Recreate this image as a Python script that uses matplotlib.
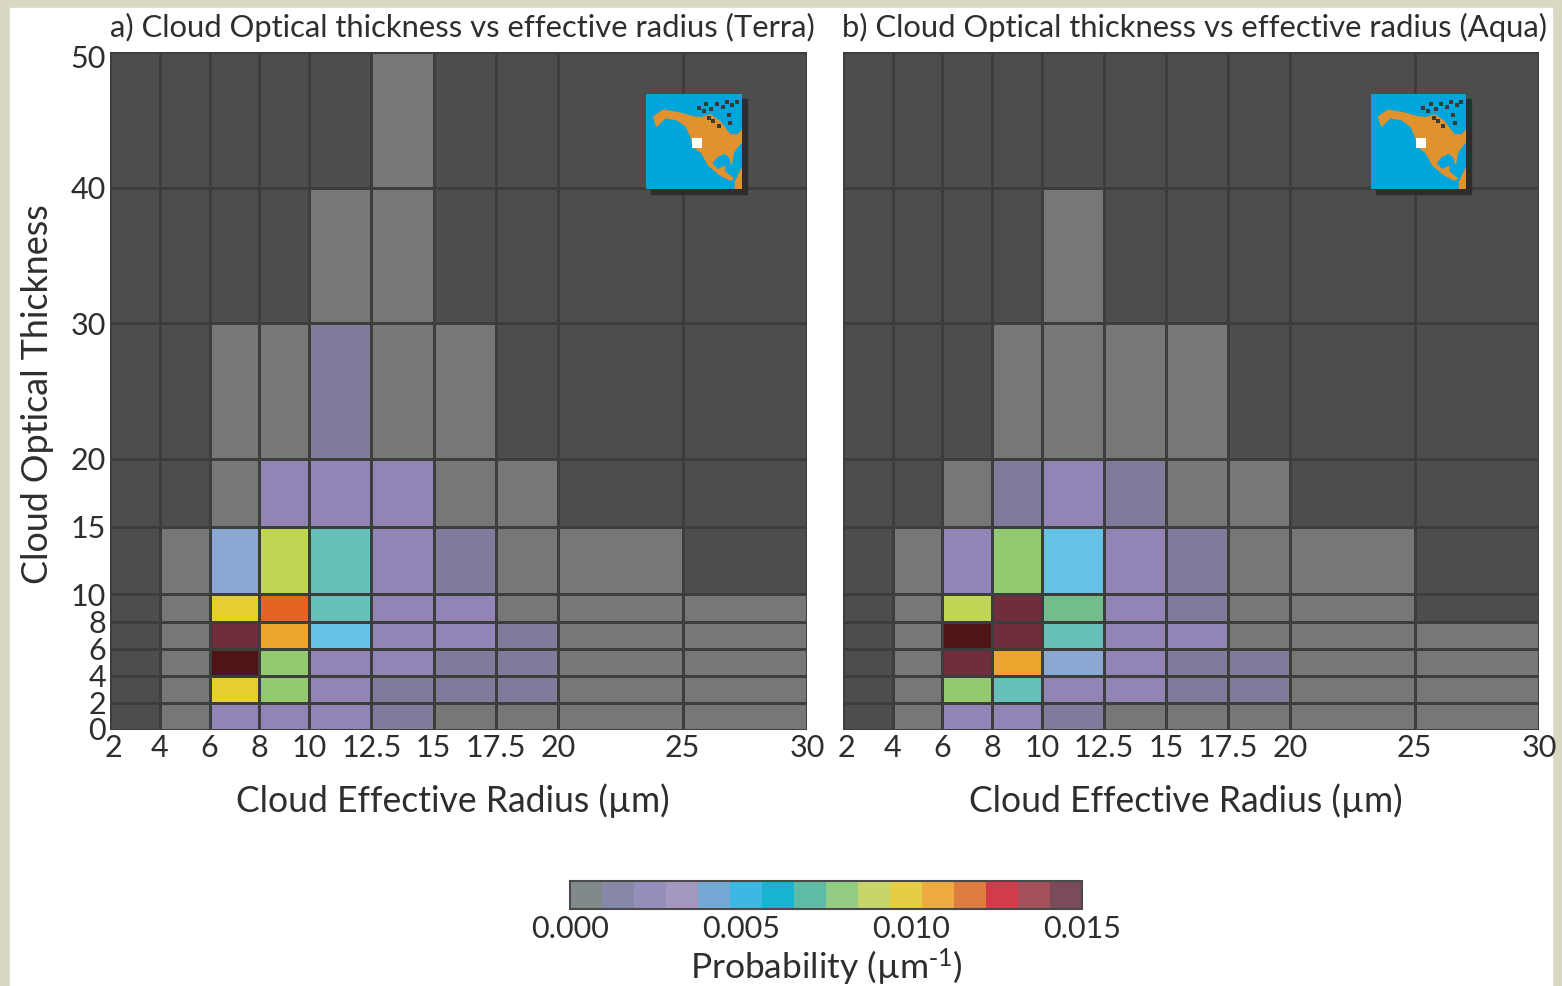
import numpy as np
import matplotlib
matplotlib.use('Agg')
import matplotlib.pyplot as plt
from matplotlib.colors import ListedColormap, BoundaryNorm
from matplotlib.cm import ScalarMappable
from matplotlib.patches import Rectangle, Polygon
from matplotlib.transforms import ScaledTranslation

plt.rcParams['font.family'] = ['Lato', 'DejaVu Sans']
plt.rcParams['mathtext.default'] = 'regular'

W, H = 1562, 986
n = np.nan

# bin edges
radius_edges = [2, 4, 6, 8, 10, 12.5, 15, 17.5, 20, 25, 30]
tau_edges = [0, 2, 4, 6, 8, 10, 15, 20, 30, 40, 50]
radius_ticks = [2, 4, 6, 8, 10, 12.5, 15, 17.5, 20, 25, 30]
radius_labels = ['2', '4', '6', '8', '10', '12.5', '15', '17.5', '20', '25', '30']
tau_ticks = [0, 2, 4, 6, 8, 10, 15, 20, 30, 40, 50]
tau_labels = ['0', '2', '4', '6', '8', '10', '15', '20', '30', '40', '50']

# probabilidades, fila de abajo primero (nan = sin datos)
terra = [
    [n, .0005, .0023, .0023, .0023, .0014, .0005, .0005, .0005, .0005],
    [n, .0005, .0098, .0080, .0023, .0014, .0014, .0014, .0005, .0005],
    [n, .0005, .0145, .0080, .0023, .0023, .0014, .0014, .0005, .0005],
    [n, .0005, .0136, .0108, .0052, .0023, .0023, .0014, .0005, .0005],
    [n, .0005, .0098, .0117, .0061, .0023, .0023, .0005, .0005, .0005],
    [n, .0005, .0042, .0089, .0061, .0023, .0014, .0005, .0005, n],
    [n, n, .0005, .0023, .0023, .0023, .0005, .0005, n, n],
    [n, n, .0005, .0005, .0014, .0005, .0005, n, n, n],
    [n, n, n, n, .0005, .0005, n, n, n, n],
    [n, n, n, n, n, .0005, n, n, n, n],
]
aqua = [
    [n, .0005, .0023, .0023, .0014, .0005, .0005, .0005, .0005, .0005],
    [n, .0005, .0080, .0061, .0023, .0023, .0014, .0014, .0005, .0005],
    [n, .0005, .0136, .0108, .0042, .0023, .0014, .0014, .0005, .0005],
    [n, .0005, .0145, .0136, .0061, .0023, .0023, .0005, .0005, .0005],
    [n, .0005, .0089, .0136, .0070, .0023, .0014, .0005, .0005, n],
    [n, .0005, .0023, .0080, .0052, .0023, .0014, .0005, .0005, n],
    [n, n, .0005, .0014, .0023, .0014, .0005, .0005, n, n],
    [n, n, n, .0005, .0005, .0005, .0005, n, n, n],
    [n, n, n, n, .0005, n, n, n, n, n],
    [n, n, n, n, n, n, n, n, n, n],
]

cell_colors = ['#767875', '#7f7b9b', '#9284b5', '#9688b7', '#8aa8d1', '#66c1e6',
               '#67c1ba', '#72bd8a', '#92c971', '#bfd655', '#e5cf2f', '#eca42f',
               '#e46426', '#c93a3a', '#702e3c', '#4e1416']
bar_colors = ['#808a8a', '#8787a8', '#9490bb', '#a497c0', '#74a9d6', '#3db7e4',
              '#16b4d0', '#5fbba3', '#92cc85', '#c7d56b', '#e6cd46', '#eeab42',
              '#dd7e40', '#d23c4a', '#a44f5c', '#7a4b58']
levels = np.linspace(0, 0.015, 17)
bar_ticks = [0, 0.005, 0.010, 0.015]

# contorno aproximado del mapa (norteamerica), en fraccion del recuadro
land_x = [.08, .18, .35, .49, .58, .67, .77, .875, .96, 1.0, 1.0, .94, .91, .89, .875, .82,
          .74, .68, .75, .82, .82, .91, .875, .77, .65, .58, .49, .475, .42, .32, .20, .11]
land_y = [.76, .83, .80, .76, .75, .78, .71, .57, .57, .62, .50, .43, .38, .26, .33, .38,
          .34, .27, .20, .24, .18, .11, .095, .15, .25, .38, .45, .535, .66, .73, .75, .66]
southam_x = [.93, .93, 1.0, 1.0]
southam_y = [0, .07, .22, 0]
islands_x = [.55, .60, .63, .68, .70, .74, .80, .84, .86, .90, .95, .66, .76, .88]
islands_y = [.85, .82, .90, .84, .72, .90, .86, .92, .78, .88, .92, .75, .66, .70]


def add_axes_px(fig, x0, y0, x1, y1):
    return fig.add_axes([x0 / W, 1 - y1 / H, (x1 - x0) / W, (y1 - y0) / H])


def nudge(label, dx, dy):
    label.set_transform(label.get_transform() + ScaledTranslation(dx / 100, dy / 100, label.figure.dpi_scale_trans))


def draw_panel(fig, box, data, title, cmap, norm, map_box, ylab=False):
    ax = add_axes_px(fig, *box)
    ax.pcolormesh(radius_edges, tau_edges, np.ma.masked_invalid(data), cmap=cmap, norm=norm,
                  edgecolors='#3c3e3c', linewidth=0.8)
    ax.set_xlim(2, 30)
    ax.set_ylim(0, 50)
    ax.set_xticks(radius_ticks, radius_labels)
    ax.set_yticks(tau_ticks if ylab else [])
    if ylab:
        ax.set_yticklabels(tau_labels)
    ax.tick_params(length=0, labelsize=22, colors='#2e2e2e', pad=3)
    for sp in ax.spines.values():
        sp.set_visible(False)
    ax.set_xlabel('Cloud Effective Radius (µm)', fontsize=25.6, color='#2e2e2e', labelpad=15, x=0.492)
    if ylab:
        ax.set_ylabel('Cloud Optical Thickness', fontsize=25.8, color='#2e2e2e', labelpad=12, y=0.495)
        nudge(ax.get_yticklabels()[0], 0, 2)
        nudge(ax.get_yticklabels()[-1], 0, -4)
    nudge(ax.get_xticklabels()[0], 3, 0)
    ax.set_title(title, fontsize=22.3, color='#2e2e2e', x=0.505, pad=11)

    # mapa de situacion
    x0, y0, x1, y1 = map_box
    fig.patches.append(Rectangle((x0 / W + 5 / W, 1 - y1 / H - 5 / H), (x1 - x0) / W, (y1 - y0) / H,
                                 transform=fig.transFigure, color='#2c2d2c', zorder=3))
    m = add_axes_px(fig, x0, y0, x1, y1)
    m.set_zorder(4)
    m.set_facecolor('#00a5dc')
    m.set_xlim(0, 1)
    m.set_ylim(0, 1)
    m.set_xticks([])
    m.set_yticks([])
    for sp in m.spines.values():
        sp.set_visible(False)
    m.add_patch(Polygon(np.column_stack([land_x, land_y]), color='#e0922f'))
    m.add_patch(Polygon(np.column_stack([southam_x, southam_y]), color='#e0922f'))
    m.scatter(islands_x, islands_y, s=9, marker='s', color='#3a3a34', linewidths=0)
    m.scatter([.53], [.48], s=60, marker='s', color='white', linewidths=0)
    return ax


fig = plt.figure(figsize=(W / 100, H / 100), dpi=100, facecolor='#d9d9c3')
fig.patches.append(Rectangle((10 / W, 0), 1542 / W, 1 - 8 / H, transform=fig.transFigure,
                             color='white', zorder=-1))

cell_cmap = ListedColormap(cell_colors)
cell_cmap.set_bad('#4c4e4c')
norm = BoundaryNorm(levels, 16)

draw_panel(fig, (110, 52, 807, 730), terra, 'a) Cloud Optical thickness vs effective radius (Terra)',
           cell_cmap, norm, (646, 94, 742, 189), ylab=True)
draw_panel(fig, (843, 52, 1539, 730), aqua, 'b) Cloud Optical thickness vs effective radius (Aqua)',
           cell_cmap, norm, (1371, 94, 1466, 189))

cax = add_axes_px(fig, 570, 881, 1082, 909)
cb = fig.colorbar(ScalarMappable(norm=norm, cmap=ListedColormap(bar_colors)), cax=cax,
                  orientation='horizontal', ticks=bar_ticks, spacing='proportional')
cb.ax.set_xticklabels(['%.3f' % t for t in bar_ticks])
cb.ax.minorticks_off()
cb.ax.tick_params(length=0, labelsize=22, colors='#2e2e2e', pad=4)
cb.outline.set_edgecolor('#4a4a4a')
cb.outline.set_linewidth(1.5)
cb.set_label('Probability (µm$^{\\text{-}1}$)', fontsize=25.5, color='#2e2e2e', labelpad=3)

fig.savefig('out.png', dpi=100, facecolor=fig.get_facecolor())
